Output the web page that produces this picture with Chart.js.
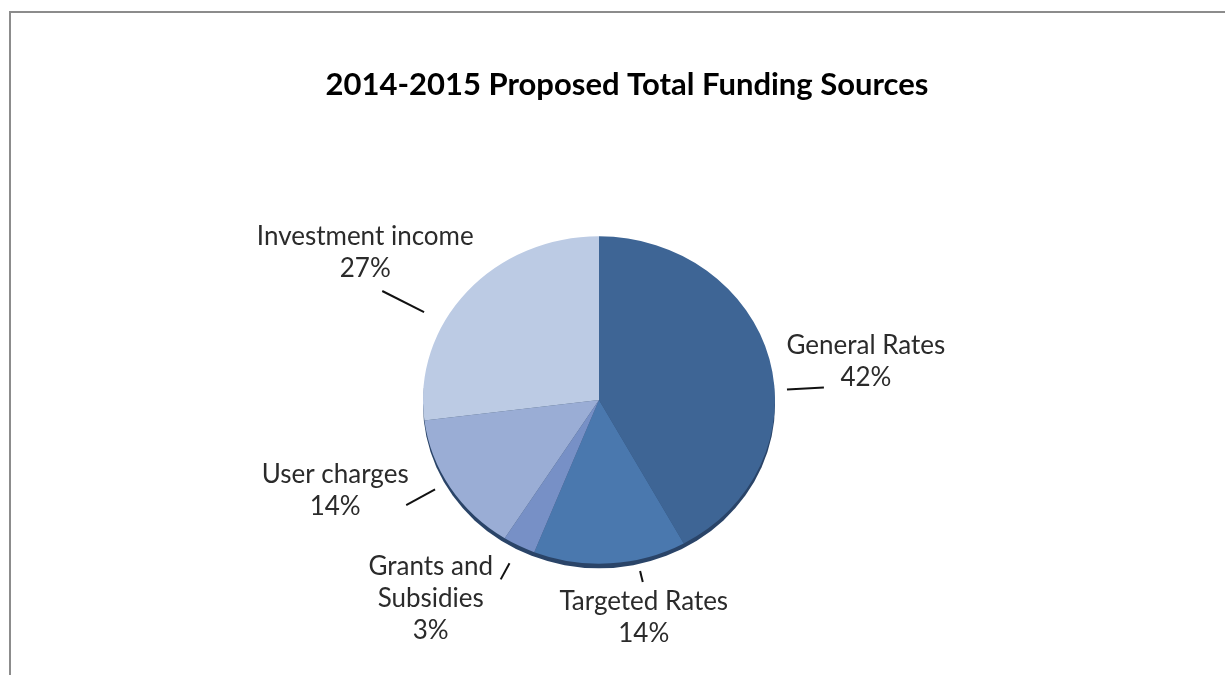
<!DOCTYPE html>
<html>
<head>
<meta charset="utf-8">
<script src="https://cdn.jsdelivr.net/npm/chart.js@4/dist/chart.umd.min.js"></script>
<style>
  html, body { margin: 0; padding: 0; background: #fff; }
  #wrap { position: relative; width: 1225px; height: 675px; overflow: hidden; }
  #frame {
    position: absolute; left: 9px; top: 11px; right: -4px; bottom: -4px;
    border-left: 2px solid #8c8c8c; border-top: 2px solid #8c8c8c;
    pointer-events: none;
  }
</style>
</head>
<body>
<div id="wrap">
  <canvas id="fundingChart" width="1225" height="675"></canvas>
  <div id="frame"></div>
</div>
<script>
const TITLE = "2014-2015 Proposed Total Funding Sources";

const sources = ["General Rates", "Targeted Rates", "Grants and Subsidies", "User charges", "Investment income"];
const shares = [42, 14, 3, 14, 27];
const sliceColors = ["#3e6595", "#4a78ae", "#7790c6", "#9aadd5", "#bccbe4"];

// label text lines per slice (Excel breaks "Grants and Subsidies" over two lines)
const labelLines = [
  ["General Rates"],
  ["Targeted Rates"],
  ["Grants and", "Subsidies"],
  ["User charges"],
  ["Investment income"]
];

// leader placement: angle nudge (deg), inner/outer radius factors, text offset from leader end
const labelLayout = [
  { nudge: 11, k1: 1.07, k2: 1.28, dx: 42, dy: -26 },
  { nudge: -9, k1: 1.07, k2: 1.14, dx: 1, dy: 36 },
  { nudge: 0, k1: 1.12, k2: 1.23, dx: -70, dy: 19 },
  { nudge: 2, k1: 1.08, k2: 1.27, dx: -71, dy: -15 },
  { nudge: -13, k1: 1.13, k2: 1.40, dx: -17, dy: -38 }
];

const TILT = 0.93;          // vertical squash of the pie
const FONT = "Lato, 'Open Sans', sans-serif";

const tiltPie = {
  id: "tiltPie",
  beforeDatasetsDraw(chart) {
    const arc = chart.getDatasetMeta(0).data[0];
    const ctx = chart.ctx;
    ctx.save();
    ctx.translate(arc.x, arc.y);
    ctx.scale(1, TILT);
    ctx.translate(-arc.x, -arc.y);
    // dark rim under the disc
    ctx.beginPath();
    ctx.arc(arc.x, arc.y + 5, arc.outerRadius, 0, Math.PI * 2);
    ctx.fillStyle = "#2a4468";
    ctx.fill();
  },
  afterDatasetsDraw(chart) {
    chart.ctx.restore();
  }
};

const sliceLabels = {
  id: "sliceLabels",
  afterDraw(chart) {
    const ctx = chart.ctx;
    const arcs = chart.getDatasetMeta(0).data;

    ctx.save();
    ctx.fillStyle = "#000";
    ctx.font = "bold 31px " + FONT;
    ctx.textAlign = "center";
    ctx.textBaseline = "middle";
    ctx.fillText(TITLE, 627, 85);

    ctx.font = "26px " + FONT;
    ctx.fillStyle = "#2b2b2b";
    ctx.strokeStyle = "#111";
    ctx.lineWidth = 2;
    const lh = 32;

    arcs.forEach((arc, i) => {
      const lay = labelLayout[i];
      const mid = (arc.startAngle + arc.endAngle) / 2 + lay.nudge * Math.PI / 180;
      const r = arc.outerRadius;
      const px = k => arc.x + Math.cos(mid) * r * k;
      const py = k => arc.y + Math.sin(mid) * r * k * TILT;

      ctx.beginPath();
      ctx.moveTo(px(lay.k1), py(lay.k1));
      ctx.lineTo(px(lay.k2), py(lay.k2));
      ctx.stroke();

      const lines = labelLines[i].concat([shares[i] + "%"]);
      const tx = px(lay.k2) + lay.dx;
      const ty = py(lay.k2) + lay.dy - (lines.length - 1) * lh / 2;
      lines.forEach((txt, j) => ctx.fillText(txt, tx, ty + j * lh));
    });
    ctx.restore();
  }
};

new Chart(document.getElementById("fundingChart"), {
  type: "pie",
  data: {
    labels: sources,
    datasets: [{
      data: shares,
      backgroundColor: sliceColors,
      borderWidth: 0
    }]
  },
  options: {
    responsive: false,
    animation: false,
    layout: {
      padding: { left: 300, right: 327, top: 224, bottom: 99 }
    },
    plugins: {
      legend: { display: false },
      tooltip: { enabled: false },
      title: { display: false }
    }
  },
  plugins: [tiltPie, sliceLabels]
});
</script>
</body>
</html>
